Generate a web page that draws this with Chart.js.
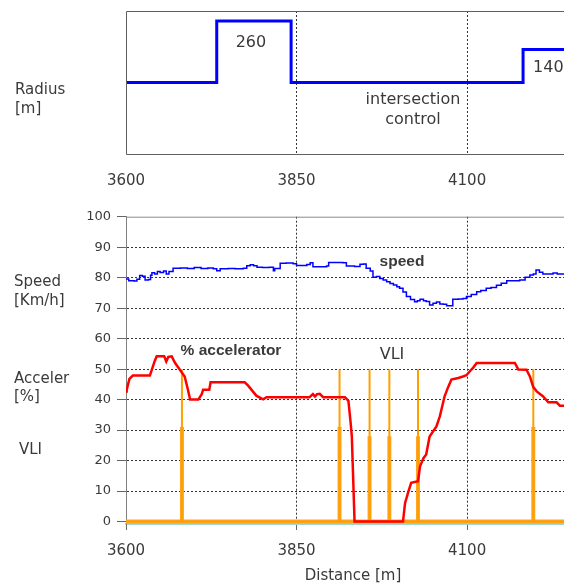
<!DOCTYPE html>
<html>
<head>
<meta charset="utf-8">
<script src="https://cdn.jsdelivr.net/npm/chart.js@4.4.1/dist/chart.umd.min.js"></script>
<style>
  html, body { margin: 0; padding: 0; background: #fff; overflow: hidden; }
  #wrap { position: relative; width: 564px; height: 586px; }
  #radiusBox { position: absolute; left: 0; top: 0; width: 564px; height: 195px; }
  #mainBox { position: absolute; left: 0; top: 195px; width: 564px; height: 391px; }
</style>
</head>
<body>
<div id="wrap">
  <div id="radiusBox"><canvas id="radiusChart"></canvas></div>
  <div id="mainBox"><canvas id="mainChart"></canvas></div>
</div>
<script>
// shared distance axis
const xMin = 3600;
const xMax = 4242;
const xTicks = [3600, 3850, 4100];
const yTicks = [0, 10, 20, 30, 40, 50, 60, 70, 80, 90, 100];

// curve radius (schematic step levels)
const radiusStart = [3600, 3733, 3842, 4182];
const radiusLevel = [50, 93, 50, 73];
const radiusText = ['', '260', '', '140'];

// speed [km/h]
const speedDist = [3600, 3604, 3612, 3616, 3620, 3624, 3628, 3633, 3636, 3638, 3642, 3646, 3650, 3655, 3659, 3663,
  3669, 3680, 3690, 3700, 3710, 3720, 3728, 3733, 3738, 3750, 3760, 3772, 3777, 3782, 3787, 3792, 3800, 3810,
  3816, 3818, 3826, 3835, 3845, 3850, 3860, 3865, 3870, 3874, 3885, 3894, 3897, 3910, 3918, 3923, 3935, 3943,
  3948, 3952, 3958, 3962, 3967, 3972, 3977, 3982, 3987, 3992, 3997, 4001, 4006, 4011, 4017, 4023, 4027, 4031,
  4036, 4040, 4045, 4050, 4055, 4060, 4065, 4070, 4074, 4079, 4087, 4094, 4099, 4106, 4114, 4120, 4128, 4135,
  4143, 4150, 4158, 4167, 4177, 4185, 4192, 4197, 4201, 4206, 4211, 4220, 4226, 4232, 4242];
const speedVals = [79.6, 79.0, 78.9, 79.5, 80.7, 80.5, 79.2, 79.4, 80.8, 81.6, 81.2, 82.0, 81.7, 82.2, 81.2, 82.0,
  83.1, 83.2, 83.0, 83.3, 83.0, 83.2, 82.9, 82.3, 82.9, 83.0, 82.9, 83.1, 83.9, 84.2, 83.9, 83.4, 83.3, 83.4,
  82.3, 83.0, 84.7, 84.8, 84.6, 84.0, 84.0, 84.3, 84.9, 83.6, 83.6, 83.8, 85.0, 85.0, 84.9, 83.8, 83.7, 84.4,
  84.5, 83.1, 82.2, 80.1, 80.4, 79.7, 79.2, 78.7, 78.1, 77.6, 77.0, 76.5, 75.3, 73.8, 72.8, 72.1, 72.4, 72.9,
  72.4, 72.2, 71.0, 71.6, 72.0, 71.4, 71.3, 70.8, 70.8, 72.9, 73.0, 73.2, 73.8, 74.5, 75.4, 75.8, 76.5, 76.8,
  77.5, 78.2, 79.0, 79.0, 79.2, 80.1, 80.9, 81.2, 82.5, 81.8, 81.2, 81.2, 81.5, 81.2, 81.4];

// accelerator pedal [%]
const accelDist = [3600, 3601, 3605, 3610, 3635, 3642, 3645, 3656, 3659, 3662, 3667, 3672, 3679, 3686, 3690, 3694,
  3706, 3711, 3713, 3722, 3724, 3774, 3779, 3791, 3801, 3806, 3869, 3874, 3877, 3880, 3884, 3889, 3921, 3926,
  3929, 3931, 3933, 3935, 4006, 4009, 4014, 4018, 4028, 4031, 4036, 4040, 4045, 4055, 4060, 4067, 4072, 4077,
  4087, 4094, 4099, 4104, 4109, 4114, 4170, 4175, 4187, 4192, 4197, 4202, 4211, 4219, 4231, 4236, 4242];
const accelVals = [42.7, 43.2, 46.8, 47.9, 47.9, 52.6, 54.2, 54.2, 52.5, 54.0, 54.2, 52.0, 49.8, 47.6, 44.0, 40.0,
  40.0, 41.8, 43.2, 43.2, 45.7, 45.7, 44.6, 41.3, 40.1, 40.8, 40.8, 41.8, 41.0, 41.8, 41.9, 40.8, 40.8, 39.6,
  33.0, 28.0, 14.0, 0, 0, 6.0, 9.9, 12.7, 13.2, 18.1, 20.8, 22.0, 27.9, 31.2, 34.5, 41.1, 44.0, 46.6,
  47.1, 47.6, 48.0, 49.3, 50.5, 52.0, 52.0, 49.9, 49.8, 47.6, 44.1, 42.7, 41.1, 39.1, 39.1, 38.0, 38.0];

// VLI events
const vliDist = [3682, 3913, 3957, 3986, 4028, 4197];
const vliPeak = [50, 50, 50, 50, 50, 50];
const vliBase = [31, 31, 28, 28, 28, 31];

const FONT = "'DejaVu Sans', sans-serif";
const TXT = '#3a3a3a';

function pairs(xs, ys) {
  return xs.map((x, i) => ({ x: x, y: ys[i] }));
}

function spikes(xs, ys) {
  const pts = [{ x: xMin, y: 0 }];
  xs.forEach((x, i) => {
    pts.push({ x: x, y: 0 }, { x: x, y: ys[i] }, { x: x, y: 0 });
  });
  pts.push({ x: xMax, y: 0 });
  return pts;
}

function setXTicks(scale) {
  scale.ticks = xTicks.map(v => ({ value: v }));
}

function plain(v) {
  return String(v);
}

function drawText(ctx, str, x, y, font, align) {
  ctx.font = font;
  ctx.fillStyle = TXT;
  ctx.textAlign = align || 'left';
  ctx.textBaseline = 'middle';
  ctx.fillText(str, x, y);
}

// ---------- radius chart ----------
const radiusPts = pairs(radiusStart, radiusLevel);
radiusPts.push({ x: xMax, y: radiusLevel[radiusLevel.length - 1] });

const radiusDeco = {
  id: 'radiusDeco',
  afterDraw(chart) {
    const { ctx, chartArea: a, scales: { x, y } } = chart;
    ctx.save();
    ctx.strokeStyle = '#606060';
    ctx.lineWidth = 1;
    ctx.beginPath();
    ctx.moveTo(a.right + 2, a.top + 0.5);
    ctx.lineTo(a.left + 0.5, a.top + 0.5);
    ctx.lineTo(a.left + 0.5, a.bottom + 0.5);
    ctx.lineTo(a.right + 2, a.bottom + 0.5);
    ctx.stroke();

    radiusText.forEach((t, i) => {
      if (!t) return;
      const y0 = y.getPixelForValue(radiusLevel[i]);
      if (i === radiusText.length - 1) {
        drawText(ctx, t, x.getPixelForValue(radiusStart[i]) + 10, y0 + 18, '16px ' + FONT, 'left');
      } else {
        const xc = (x.getPixelForValue(radiusStart[i]) + x.getPixelForValue(radiusStart[i + 1])) / 2;
        drawText(ctx, t, xc - 3, y0 + 22, '16px ' + FONT, 'center');
      }
    });
    drawText(ctx, 'intersection', 413, 100, '16px ' + FONT, 'center');
    drawText(ctx, 'control', 413, 120, '16px ' + FONT, 'center');
    drawText(ctx, 'Radius', 15, 90, '15px ' + FONT, 'left');
    drawText(ctx, '[m]', 15, 109, '15px ' + FONT, 'left');
    ctx.restore();
  }
};

new Chart(document.getElementById('radiusChart'), {
  type: 'scatter',
  data: {
    datasets: [{
      data: radiusPts,
      showLine: true,
      stepped: true,
      borderColor: '#0000ff',
      borderWidth: 3,
      borderJoinStyle: 'miter',
      pointRadius: 0
    }]
  },
  options: {
    responsive: true,
    maintainAspectRatio: false,
    animation: false,
    layout: { padding: { left: 126, top: 11, right: 0, bottom: 0 } },
    plugins: { legend: { display: false }, tooltip: { enabled: false } },
    scales: {
      x: {
        type: 'linear',
        min: xMin,
        max: xMax,
        afterBuildTicks: setXTicks,
        afterFit: s => { s.height = 41; },
        grid: {
          color: c => (c.tick && c.tick.value === xMin) ? 'rgba(0,0,0,0)' : '#333',
          lineWidth: 1,
          drawTicks: false
        },
        border: { display: false, dash: [2, 2] },
        ticks: { padding: 18, color: TXT, font: { family: FONT, size: 15 }, callback: plain }
      },
      y: { display: false, min: 0, max: 100 }
    }
  },
  plugins: [radiusDeco]
});

// ---------- speed / accelerator / VLI chart ----------
const mainDeco = {
  id: 'mainDeco',
  afterDraw(chart) {
    const { ctx, chartArea: a } = chart;
    ctx.save();
    ctx.strokeStyle = '#8a8a8a';
    ctx.lineWidth = 1;
    ctx.beginPath();
    ctx.moveTo(a.left, chart.scales.y.getPixelForValue(100) + 0.5);
    ctx.lineTo(a.right, chart.scales.y.getPixelForValue(100) + 0.5);
    ctx.stroke();

    const bold = "bold 15.5px 'Liberation Sans', Arial, sans-serif";
    drawText(ctx, 'speed', 402, 67, bold, 'center');
    drawText(ctx, '% accelerator', 231, 156, bold, 'center');
    drawText(ctx, 'VLI', 392, 160, '16px ' + FONT, 'center');

    const side = '15px ' + FONT;
    drawText(ctx, 'Speed', 14, 87, side);
    drawText(ctx, '[Km/h]', 14, 106, side);
    drawText(ctx, 'Acceler', 14, 184, side);
    drawText(ctx, '[%]', 14, 202, side);
    drawText(ctx, 'VLI', 19, 255, side);
    drawText(ctx, 'Distance [m]', 353, 381, '15px ' + FONT, 'center');
    ctx.restore();
  }
};

new Chart(document.getElementById('mainChart'), {
  type: 'scatter',
  data: {
    datasets: [
      {
        label: 'speed',
        data: pairs(speedDist, speedVals),
        showLine: true,
        stepped: true,
        borderColor: '#0000ff',
        borderWidth: 1.5,
        pointRadius: 0,
        order: 1
      },
      {
        label: '% accelerator',
        data: pairs(accelDist, accelVals),
        showLine: true,
        borderColor: '#ff0000',
        borderWidth: 2.5,
        pointRadius: 0,
        order: 2
      },
      {
        label: 'VLI',
        data: spikes(vliDist, vliPeak),
        showLine: true,
        borderColor: '#ffa000',
        borderWidth: 2,
        pointRadius: 0,
        order: 3
      },
      {
        label: 'VLI base',
        data: spikes(vliDist, vliBase),
        showLine: true,
        borderColor: '#ffa526',
        borderWidth: 4,
        pointRadius: 0,
        order: 4
      }
    ]
  },
  options: {
    responsive: true,
    maintainAspectRatio: false,
    animation: false,
    layout: { padding: { left: 0, top: 21.7, right: 0, bottom: 0 } },
    plugins: { legend: { display: false }, tooltip: { enabled: false } },
    scales: {
      x: {
        type: 'linear',
        min: xMin,
        max: xMax,
        afterBuildTicks: setXTicks,
        afterFit: s => { s.height = 62; },
        grid: {
          color: c => (c.tick && c.tick.value === xMin) ? 'rgba(0,0,0,0)' : '#333',
          lineWidth: 1,
          tickColor: '#666',
          tickLength: 6,
          tickBorderDash: []
        },
        border: { display: true, color: '#9fd8d0', width: 2, dash: [2, 2] },
        ticks: { padding: 12, color: TXT, font: { family: FONT, size: 15 }, callback: plain }
      },
      y: {
        min: -0.8,
        max: 100,
        afterBuildTicks: s => { s.ticks = yTicks.map(v => ({ value: v })); },
        afterFit: s => { s.width = 126; },
        grid: {
          color: c => (c.tick && (c.tick.value === 0 || c.tick.value === 100)) ? 'rgba(0,0,0,0)' : '#333',
          lineWidth: 1,
          tickColor: '#666',
          tickLength: 9,
          tickBorderDash: []
        },
        border: { display: true, color: '#808080', width: 1, dash: [2, 2] },
        ticks: { padding: 6, color: TXT, font: { family: FONT, size: 13 }, callback: plain }
      }
    }
  },
  plugins: [mainDeco]
});
</script>
</body>
</html>
